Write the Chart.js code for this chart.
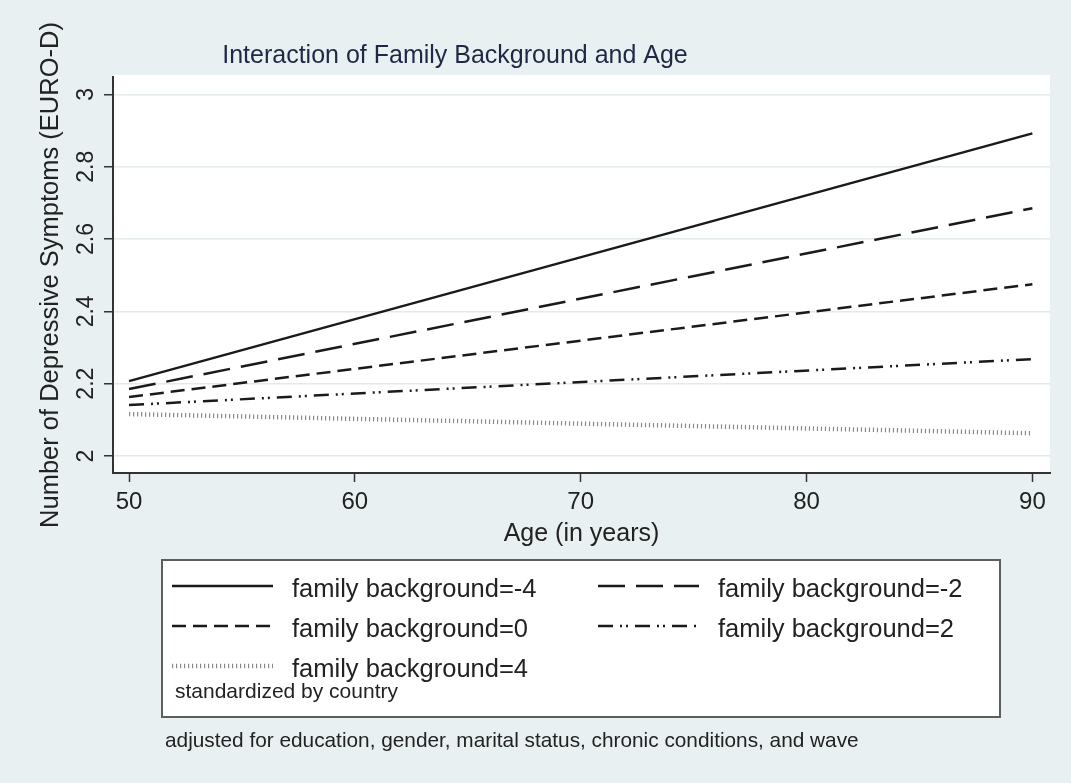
<!DOCTYPE html>
<html>
<head>
<meta charset="utf-8">
<script src="https://cdn.jsdelivr.net/npm/chart.js@4"></script>
<style>
  html, body { margin: 0; padding: 0; background: #e9f0f2; }
  #wrap { width: 1071px; height: 783px; }
  canvas { display: block; }
</style>
</head>
<body>
<div id="wrap"><canvas id="c" width="1071" height="783"></canvas></div>
<script>
// ---- data ----
const ages = [50, 90];
const fbMinus4 = [2.207, 2.892];
const fbMinus2 = [2.185, 2.685];
const fbZero   = [2.163, 2.475];
const fbPlus2  = [2.141, 2.268];
const fbPlus4  = [2.116, 2.063];
const seriesLabels = ['family background=-4', 'family background=-2', 'family background=0', 'family background=2', 'family background=4'];
const xTicks = [50, 60, 70, 80, 90];
const yTicks = [2, 2.2, 2.4, 2.6, 2.8, 3];
const titleText = 'Interaction of Family Background and Age';
const xTitle = 'Age (in years)';
const yTitle = 'Number of Depressive Symptoms (EURO-D)';
const legendNote = 'standardized by country';
const footNote = 'adjusted for education, gender, marital status, chronic conditions, and wave';

const FONT = "'Liberation Sans', Arial, Helvetica, sans-serif";
const seriesValues = [fbMinus4, fbMinus2, fbZero, fbPlus2, fbPlus4];
const seriesStyles = [
  { borderColor: '#1a1a1a', borderWidth: 2.5, borderDash: [] },
  { borderColor: '#1a1a1a', borderWidth: 2.5, borderDash: [27, 11] },
  { borderColor: '#1a1a1a', borderWidth: 2.5, borderDash: [14, 7] },
  { borderColor: '#1a1a1a', borderWidth: 2.5, borderDash: [15, 7, 2, 4, 2, 7] },
  { borderColor: '#8a8a8a', borderWidth: 4.5, borderDash: [1.2, 2.8] }
];

const datasets = seriesValues.map((vals, i) => Object.assign({
  label: seriesLabels[i],
  data: ages.map((a, j) => ({ x: a, y: vals[j] })),
  pointRadius: 0,
  tension: 0,
  fill: false
}, seriesStyles[i]));

const decorPlugin = {
  id: 'decor',
  beforeDraw(chart) {
    const ctx = chart.ctx, a = chart.chartArea;
    ctx.save();
    ctx.fillStyle = '#e9f0f2';
    ctx.fillRect(0, 0, chart.width, chart.height);
    ctx.fillStyle = '#ffffff';
    ctx.fillRect(a.left, a.top - 2, a.right - a.left, a.bottom - a.top + 2);
    ctx.restore();
  },
  afterDraw(chart) {
    const ctx = chart.ctx;
    ctx.save();
    // title
    ctx.fillStyle = '#1f2845';
    ctx.font = '25px ' + FONT;
    ctx.textAlign = 'center';
    ctx.textBaseline = 'alphabetic';
    ctx.fillText(titleText, 455, 63);

    // legend box
    ctx.fillStyle = '#ffffff';
    ctx.fillRect(162, 560, 838, 157);
    ctx.strokeStyle = '#5e5e5e';
    ctx.lineWidth = 2;
    ctx.strokeRect(162, 560, 838, 157);

    const cols = [172, 598];
    const rowsLine = [586, 626, 666];
    const rowsText = [597, 637, 677];
    chart.data.datasets.forEach((ds, i) => {
      const r = Math.floor(i / 2), c = i % 2;
      const x0 = cols[c];
      ctx.save();
      ctx.strokeStyle = ds.borderColor;
      ctx.lineWidth = ds.borderWidth;
      ctx.setLineDash(ds.borderDash || []);
      ctx.beginPath();
      ctx.moveTo(x0, rowsLine[r]);
      ctx.lineTo(x0 + 101, rowsLine[r]);
      ctx.stroke();
      ctx.restore();
      ctx.fillStyle = '#222222';
      ctx.font = '25.5px ' + FONT;
      ctx.textAlign = 'left';
      ctx.fillText(ds.label, x0 + 120, rowsText[r]);
    });
    ctx.font = '21px ' + FONT;
    ctx.fillStyle = '#222222';
    ctx.fillText(legendNote, 175, 698);

    ctx.font = '20.8px ' + FONT;
    ctx.fillText(footNote, 165, 747);
    ctx.restore();
  }
};

new Chart(document.getElementById('c'), {
  type: 'line',
  data: { datasets },
  options: {
    responsive: false,
    animation: false,
    layout: { padding: { left: 0, right: 21, top: 77, bottom: 220 } },
    plugins: { legend: { display: false }, tooltip: { enabled: false }, title: { display: false } },
    scales: {
      x: {
        type: 'linear',
        min: 49.29,
        max: 90.78,
        afterBuildTicks: s => { s.ticks = xTicks.map(v => ({ value: v })); },
        afterFit: s => { s.height = 90; },
        grid: { drawOnChartArea: false, tickLength: 9, tickColor: '#333333', tickWidth: 1.5 },
        border: { display: true, color: '#333333', width: 2 },
        ticks: { autoSkip: false, maxRotation: 0, padding: 6, color: '#222222', font: { size: 24, family: FONT }, callback: v => String(v) },
        title: { display: true, text: xTitle, color: '#222222', font: { size: 25, family: FONT }, padding: { top: 0, bottom: 14 } }
      },
      y: {
        type: 'linear',
        min: 1.953,
        max: 3.048,
        afterBuildTicks: s => { s.ticks = yTicks.map(v => ({ value: v })); },
        afterFit: s => { s.width = 113; },
        grid: { color: '#e3eaee', lineWidth: 1.5, tickLength: 9, tickColor: '#333333', tickWidth: 1.5 },
        border: { display: true, color: '#333333', width: 2 },
        ticks: { autoSkip: false, minRotation: 90, maxRotation: 90, crossAlign: 'center', padding: 1, color: '#222222', font: { size: 23, family: FONT }, callback: v => String(+Number(v).toFixed(1)) },
        title: { display: true, text: yTitle, color: '#222222', font: { size: 25.5, family: FONT }, padding: { top: 35.7, bottom: 0 } }
      }
    }
  },
  plugins: [decorPlugin]
});
</script>
</body>
</html>
